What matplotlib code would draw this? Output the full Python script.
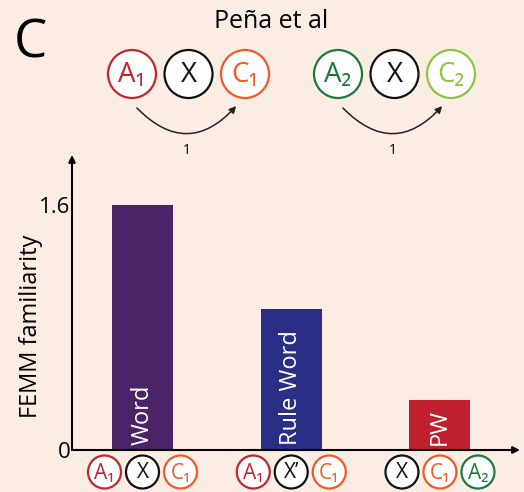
import matplotlib
matplotlib.use("Agg")
from matplotlib import pyplot as plt
from matplotlib.patches import Circle, FancyArrowPatch

plt.rcParams["font.family"] = ["Open Sans", "DejaVu Sans"]

categories = ["Word", "Rule Word", "PW"]
familiarity = [1.6, 0.92, 0.33]
bar_colors = ["#4a2466", "#2b2e87", "#c0202e"]
tick_values = [0, 1.6]
tick_labels = ["0", "1.6"]

# motifs drawn under each bar
motifs = [["A₁", "X", "C₁"], ["A₁", "X’", "C₁"], ["X", "C₁", "A₂"]]
# the two grammars shown on top
grammars = [["A₁", "X", "C₁"], ["A₂", "X", "C₂"]]

token_colors = {
    "A₁": "#c1272d",
    "C₁": "#f15a24",
    "A₂": "#1b7a3c",
    "C₂": "#8cc63f",
    "X": "#111111",
    "X’": "#111111",
}

BG = "#fbece4"


def draw_token(ax, x, y, r, label, size):
    col = token_colors[label]
    ax.add_patch(Circle((x, y), r, facecolor="white", edgecolor=col, lw=1.6))
    ax.text(x, y + 1, label, color=col, fontsize=size, ha="center", va="center")


def main():
    W, H = 524, 492
    fig = plt.figure(figsize=(W / 100, H / 100), dpi=100, facecolor=BG)

    # bar axes: origin at (72, 450) px, top of arrow at 155 px
    ax = fig.add_axes([72 / W, (H - 450) / H, (520 - 72) / W, (450 - 155) / H])
    ax.set_facecolor("none")
    x = list(range(len(categories)))
    ax.bar(x, familiarity, width=0.41, color=bar_colors)
    ax.set_xlim(-0.474, 2.538)
    ax.set_ylim(0, 1.93)
    for s in ax.spines.values():
        s.set_visible(False)
    ax.set_xticks([])
    ax.set_yticks(tick_values)
    ax.set_yticklabels(tick_labels, fontsize=16)
    ax.tick_params(axis="y", length=0, pad=1)
    ax.set_ylabel("FEMM familiarity", fontsize=17)
    ax.yaxis.set_label_coords(-0.065, 0.42)

    arrow = dict(arrowstyle="-|>", color="black", lw=1.5, mutation_scale=10, shrinkA=0, shrinkB=0)
    ax.annotate("", xy=(0, 1), xytext=(0, 0), xycoords="axes fraction", arrowprops=arrow)
    ax.annotate("", xy=(1, 0), xytext=(0, 0), xycoords="axes fraction", arrowprops=arrow)

    for xi, v, name in zip(x, familiarity, categories):
        ax.text(xi, 0.03, name, rotation=90, color="white", fontsize=17,
                ha="center", va="bottom")

    # overlay in pixel coords for the diagram parts
    ov = fig.add_axes([0, 0, 1, 1])
    ov.set_xlim(0, W)
    ov.set_ylim(H, 0)
    ov.axis("off")
    ov.patch.set_visible(False)

    ov.text(30, 44, "C", fontsize=38, ha="center", va="center")
    ov.text(271, 22, "Peña et al", fontsize=18, ha="center", va="center")

    for gi, grammar in enumerate(grammars):
        x0 = 132 + gi * 206
        for ti, tok in enumerate(grammar):
            draw_token(ov, x0 + ti * 56.5, 74, 24, tok, 20)
        a = FancyArrowPatch((x0 + 3, 106), (x0 + 106, 104),
                            connectionstyle="arc3,rad=0.55", arrowstyle="-|>",
                            mutation_scale=10, color="#222222", lw=1.1)
        ov.add_patch(a)
        ov.text(x0 + 55, 150, "1", fontsize=10, ha="center", va="center")

    # motifs under bars
    for xi, motif in zip(x, motifs):
        cx = ax.transData.transform((xi, 0))[0]
        for ti, tok in enumerate(motif):
            draw_token(ov, cx + (ti - 1) * 38, 472, 16.5, tok, 15)

    fig.savefig("out.png", dpi=100, facecolor=BG)


if __name__ == "__main__":
    main()
